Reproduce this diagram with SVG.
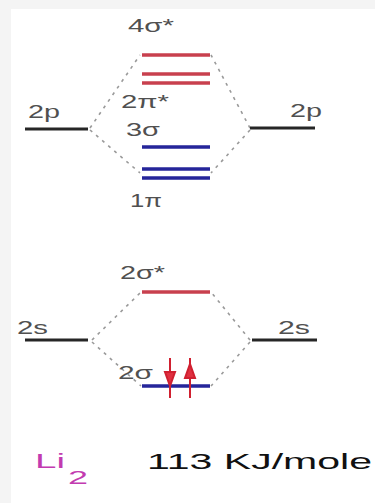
<svg xmlns="http://www.w3.org/2000/svg" width="375" height="503" viewBox="0 0 375 503">
<style>
text{font-family:"Liberation Sans",Arial,sans-serif;}
.lbl{font-size:18px;fill:#505050;}
.atom{stroke:#262626;stroke-width:3;}
.anti{stroke:#c8404e;stroke-width:3.5;}
.bond{stroke:#25259a;stroke-width:3.5;}
.dash{stroke:#9a9a9a;stroke-width:1.6;stroke-dasharray:3 5;fill:none;}
.e{stroke:#d02030;stroke-width:2;fill:#e03040;}
</style>
<rect x="0" y="0" width="375" height="503" fill="#f4f4f4"/>
<rect x="11" y="9" width="364" height="494" fill="#ffffff"/>
<g id="connectors">
<path class="dash" d="M90 128 L140 55"/>
<path class="dash" d="M90 130 L140 173"/>
<path class="dash" d="M250 128 L211 55"/>
<path class="dash" d="M250 130 L211 173"/>
<path class="dash" d="M92 340 L141 292"/>
<path class="dash" d="M92 342 L141 386"/>
<path class="dash" d="M250 340 L211 292"/>
<path class="dash" d="M250 342 L211 386"/>
</g>
<g id="atom-2p-left">
<line class="atom" x1="25" y1="129" x2="88" y2="129"/>
<text class="lbl" x="28" y="118" textLength="32" lengthAdjust="spacingAndGlyphs">2p</text>
</g>
<g id="atom-2p-right">
<line class="atom" x1="250" y1="128" x2="315" y2="128"/>
<text class="lbl" x="290" y="117" textLength="32" lengthAdjust="spacingAndGlyphs">2p</text>
</g>
<g id="mo-4sigma-star">
<line class="anti" x1="142" y1="55" x2="210" y2="55" stroke="#b0404e"/>
<text class="lbl" x="128" y="32" textLength="46" lengthAdjust="spacingAndGlyphs">4σ*</text>
</g>
<g id="mo-2pi-star">
<line class="anti" x1="142" y1="74" x2="210" y2="74" stroke="#b0404e"/>
<line class="anti" x1="142" y1="83" x2="210" y2="83" stroke="#ec5060"/>
<text class="lbl" x="121" y="108" textLength="48" lengthAdjust="spacingAndGlyphs">2π*</text>
</g>
<g id="mo-3sigma">
<line class="bond" x1="142" y1="147" x2="210" y2="147"/>
<text class="lbl" x="126" y="136" textLength="34" lengthAdjust="spacingAndGlyphs">3σ</text>
</g>
<g id="mo-1pi">
<line class="bond" x1="142" y1="169" x2="210" y2="169"/>
<line class="bond" x1="142" y1="178" x2="210" y2="178"/>
<text class="lbl" x="130" y="207" textLength="32" lengthAdjust="spacingAndGlyphs">1π</text>
</g>
<g id="atom-2s-left">
<line class="atom" x1="25" y1="340" x2="88" y2="340"/>
<text class="lbl" x="17" y="334" textLength="31" lengthAdjust="spacingAndGlyphs">2s</text>
</g>
<g id="atom-2s-right">
<line class="atom" x1="252" y1="340" x2="317" y2="340"/>
<text class="lbl" x="278" y="334" textLength="32" lengthAdjust="spacingAndGlyphs">2s</text>
</g>
<g id="mo-2sigma-star">
<line class="anti" x1="142" y1="292" x2="210" y2="292" stroke="#e06068"/>
<text class="lbl" x="120" y="279" textLength="45" lengthAdjust="spacingAndGlyphs">2σ*</text>
</g>
<g id="mo-2sigma">
<line class="bond" x1="142" y1="386" x2="210" y2="386"/>
<text class="lbl" x="118" y="379" textLength="35" lengthAdjust="spacingAndGlyphs">2σ</text>
<line class="e" x1="170" y1="358" x2="170" y2="398"/>
<polygon class="e" points="165,372 175,372 170,386"/>
<line class="e" x1="190" y1="358" x2="190" y2="398"/>
<polygon class="e" points="185,378 195,378 190,364"/>
</g>
<g id="caption">
<text x="35" y="468" font-size="21" fill="#c23bb0" textLength="30" lengthAdjust="spacingAndGlyphs">Li</text>
<text x="68" y="484" font-size="18" fill="#c23bb0" textLength="20" lengthAdjust="spacingAndGlyphs">2</text>
<text x="147" y="469" font-size="22" fill="#111111" textLength="225" lengthAdjust="spacingAndGlyphs">113 KJ/mole</text>
</g>
</svg>
